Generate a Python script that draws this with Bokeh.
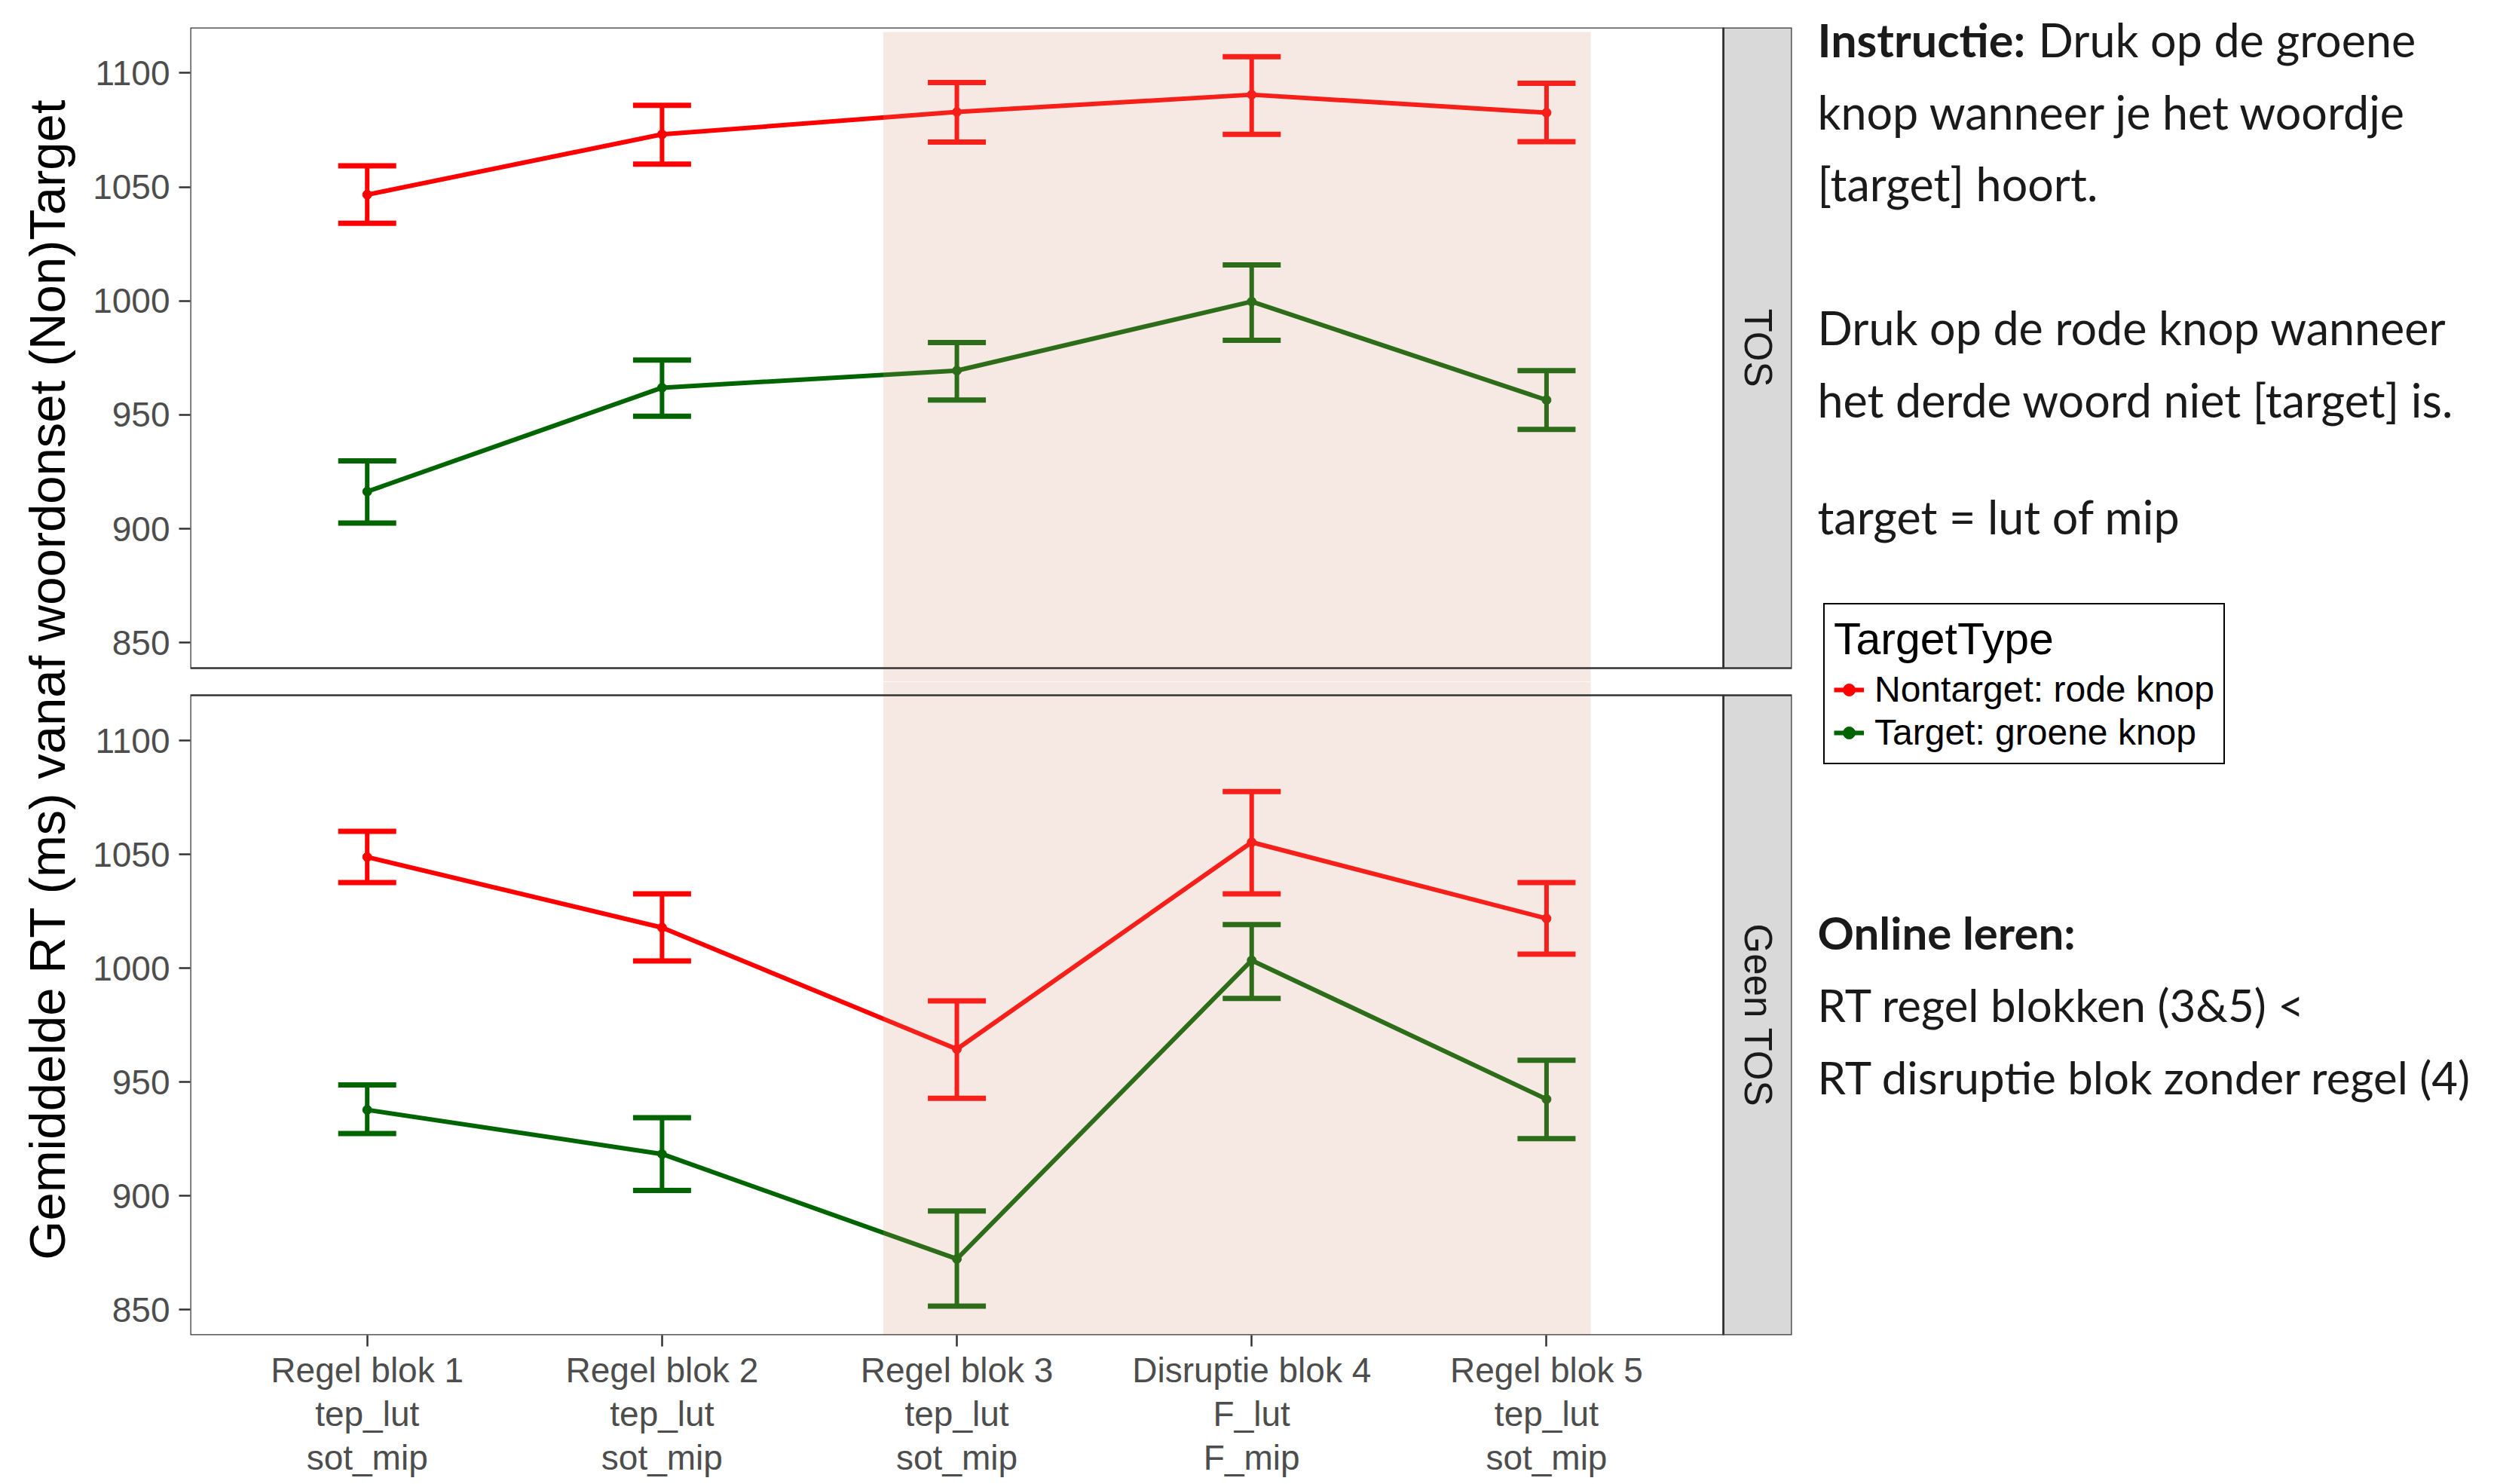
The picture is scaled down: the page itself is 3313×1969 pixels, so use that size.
import math
from bokeh.plotting import figure
from bokeh.models import (Range1d, FixedTicker, BoxAnnotation, Label, Whisker, TeeHead,
                          ColumnDataSource, Legend, LegendItem)
from bokeh.layouts import row, column
from bokeh.embed import file_html
from bokeh.resources import INLINE

# ---------------- data ----------------
blocks = ["Regel blok 1\ntep_lut\nsot_mip", "Regel blok 2\ntep_lut\nsot_mip",
          "Regel blok 3\ntep_lut\nsot_mip", "Disruptie blok 4\nF_lut\nF_mip",
          "Regel blok 5\ntep_lut\nsot_mip"]
y_ticks = [850, 900, 950, 1000, 1050, 1100]
panels = ["TOS", "Geen TOS"]
series_names = ["Nontarget: rode knop", "Target: groene knop"]

# TOS panel
nontarget_tos = [1046.6, 1073.1, 1082.9, 1090.5, 1082.6]
nontarget_tos_lo = [1034.1, 1060.0, 1069.7, 1073.1, 1069.9]
nontarget_tos_hi = [1059.3, 1085.8, 1095.8, 1107.2, 1095.5]
target_tos = [916.3, 961.9, 969.4, 999.7, 956.5]
target_tos_lo = [902.5, 949.4, 956.5, 982.7, 943.6]
target_tos_hi = [929.8, 974.0, 981.7, 1015.8, 969.4]

# Geen TOS panel
nontarget_geen = [1048.9, 1017.9, 964.5, 1055.4, 1021.9]
nontarget_geen_lo = [1037.7, 1003.2, 942.9, 1032.7, 1006.2]
nontarget_geen_hi = [1060.2, 1032.7, 985.7, 1077.7, 1037.7]
target_geen = [937.8, 918.4, 872.3, 1003.5, 942.5]
target_geen_lo = [927.4, 902.4, 851.6, 986.8, 925.2]
target_geen_hi = [948.8, 934.4, 893.4, 1019.2, 959.6]

shade_blocks = (2.75, 5.15)  # highlighted region (block 3 .. block 5)

# ---------------- style / layout ----------------
RED = "#FF0000"
GREEN = "#006400"
COLORS = [RED, GREEN]
TICK_FONT = "Liberation Sans"
TEXT_FONT = "Lato"
BORDER = "#333333"

W_LABEL, W_CENTER, W_RIGHT = 120, 2261, 916
H_TOTAL, H_TOP = 1962, 904
PANEL_H, GAP_HALF, PANEL_W, STRIP_W = 850, 18, 2037, 91
MB_LEFT, MB_TOP, MB_RIGHT = 129, 36, 4

xs = list(range(1, len(blocks) + 1))
xlo, xhi_panel = 0.4, len(blocks) + 0.6
xmax = xhi_panel + STRIP_W * (xhi_panel - xlo) / PANEL_W

all_vals = (nontarget_tos_lo + nontarget_tos_hi + target_tos_lo + target_tos_hi +
            nontarget_geen_lo + nontarget_geen_hi + target_geen_lo + target_geen_hi)
ymin, ymax = min(all_vals), max(all_vals)
span = ymax - ymin
ylo, yhi = ymin - 0.05 * span, ymax + 0.05 * span
upp = (yhi - ylo) / PANEL_H
ext = GAP_HALF * upp

panel_data = [
    [(nontarget_tos, nontarget_tos_lo, nontarget_tos_hi), (target_tos, target_tos_lo, target_tos_hi)],
    [(nontarget_geen, nontarget_geen_lo, nontarget_geen_hi), (target_geen, target_geen_lo, target_geen_hi)],
]


def style_axis(ax):
    ax.axis_line_color = None
    ax.major_tick_in = 0
    ax.major_tick_out = 15
    ax.major_tick_line_color = BORDER
    ax.major_tick_line_width = 2.5
    ax.minor_tick_line_color = None
    ax.major_label_text_font = TICK_FONT
    ax.major_label_text_font_size = "46px"
    ax.major_label_text_color = "#4D4D4D"


def make_panel(idx):
    top = idx == 0
    p = figure(width=W_CENTER, height=H_TOP if top else H_TOTAL - H_TOP,
               x_range=Range1d(xlo, xmax),
               y_range=Range1d(ylo - ext, yhi) if top else Range1d(ylo, yhi + ext),
               x_axis_location=None if top else "below",
               output_backend="svg", toolbar_location=None)
    p.min_border = 0
    p.min_border_left = MB_LEFT
    p.min_border_right = MB_RIGHT
    p.min_border_top = MB_TOP if top else 0
    p.min_border_bottom = 0
    p.outline_line_color = None
    p.grid.visible = False
    p.background_fill_color = "white"
    p.border_fill_color = "white"

    # strip
    p.add_layout(BoxAnnotation(left=xhi_panel, right=xmax, bottom=ylo, top=yhi,
                               fill_color="#D9D9D9", fill_alpha=1, line_color=BORDER,
                               line_alpha=1, line_width=2.5, level="underlay"))
    p.add_layout(Label(x=(xhi_panel + xmax) / 2, y=(ylo + yhi) / 2, text=panels[idx],
                       angle=-math.pi / 2, text_align="center", text_baseline="middle",
                       text_font="Liberation Sans", text_font_size="51px", text_color="#1A1A1A"))

    for (vals, lo, hi), color in zip(panel_data[idx], COLORS):
        src = ColumnDataSource(dict(x=xs, y=vals, lower=lo, upper=hi))
        p.add_layout(Whisker(source=src, base="x", upper="upper", lower="lower",
                             line_color=color, line_width=6, level="glyph",
                             upper_head=TeeHead(size=77, line_color=color, line_width=7),
                             lower_head=TeeHead(size=77, line_color=color, line_width=7)))
        p.line("x", "y", source=src, line_color=color, line_width=6)
        p.scatter("x", "y", source=src, size=12, color=color)

    # semi-transparent highlight
    p.add_layout(BoxAnnotation(left=shade_blocks[0], right=shade_blocks[1],
                               top=(yhi - 6 * upp) if top else None,
                               fill_color="#D49376", fill_alpha=0.21, line_alpha=0,
                               level="overlay"))
    # panel border
    p.add_layout(BoxAnnotation(left=xlo, right=xhi_panel, bottom=ylo, top=yhi,
                               fill_alpha=0, line_color=BORDER, line_alpha=1, line_width=2.5,
                               level="overlay"))

    ya = p.yaxis[0]
    ya.ticker = FixedTicker(ticks=y_ticks)
    style_axis(ya)
    ya.major_label_standoff = 12

    if not top:
        xa = p.xaxis[0]
        xa.ticker = FixedTicker(ticks=xs)
        xa.major_label_overrides = {x: lbl for x, lbl in zip(xs, blocks)}
        style_axis(xa)
        xa.major_label_text_line_height = 1.12
        xa.major_label_standoff = 5
    return p


p_top = make_panel(0)
p_bot = make_panel(1)

# left: shared y-axis title
lp = figure(width=W_LABEL, height=H_TOTAL, x_range=Range1d(0, W_LABEL), y_range=Range1d(0, H_TOTAL),
            x_axis_location=None, y_axis_location=None, output_backend="svg", toolbar_location=None)
lp.min_border = 0
lp.outline_line_color = None
lp.grid.visible = False
lp.add_layout(Label(x=62, y=H_TOTAL - 901, text="Gemiddelde RT (ms) vanaf woordonset (Non)Target",
                    angle=math.pi / 2, text_align="center", text_baseline="middle",
                    text_font="Liberation Sans", text_font_size="67px", text_color="black"))

# right: instructions and legend
rp = figure(width=W_RIGHT, height=H_TOTAL, x_range=Range1d(0, W_RIGHT), y_range=Range1d(H_TOTAL, 0),
            x_axis_location=None, y_axis_location=None, output_backend="svg", toolbar_location=None)
rp.min_border = 0
rp.outline_line_color = None
rp.grid.visible = False

TX = 30
upper_lines = [("Instructie:", "Druk op de groene", 51.6),
               (None, "knop wanneer je het woordje", 147.7),
               (None, "[target] hoort.", 243),
               (None, "Druk op de rode knop wanneer", 434),
               (None, "het derde woord niet [target] is.", 530),
               (None, "target = lut of mip", 685)]
for bold, reg, yy in upper_lines:
    x0 = TX
    if bold:
        rp.add_layout(Label(x=TX, y=yy, text=bold, text_font=TEXT_FONT, text_font_style="bold",
                            text_font_size="61px", text_color="#1A1A1A", text_baseline="middle"))
        x0 = TX + 293
    rp.add_layout(Label(x=x0, y=yy, text=reg, text_font=TEXT_FONT, text_font_size="61px",
                        text_color="#1A1A1A", text_baseline="middle"))

lower_lines = [("Online leren:", "bold", 1236.8),
               ("RT regel blokken (3&5) <", "normal", 1332),
               ("RT disruptie blok zonder regel (4)", "normal", 1428)]
for txt, style, yy in lower_lines:
    rp.add_layout(Label(x=TX, y=yy, text=txt, text_font=TEXT_FONT, text_font_style=style,
                        text_font_size="60px", text_color="#1A1A1A", text_baseline="middle"))

# legend: renderers drawn from the series data on an off-frame range (not visible)
rp.extra_y_ranges = {"hidden": Range1d(start=-2, end=-1)}
items = []
for name, color, vals in zip(series_names, COLORS, [nontarget_tos, target_tos]):
    rl = rp.line(x=xs, y=vals, line_color=color, line_width=6, y_range_name="hidden")
    rs = rp.scatter(x=xs, y=vals, size=12, color=color, y_range_name="hidden")
    items.append(LegendItem(label=name, renderers=[rl, rs]))
legend = Legend(items=items, title="TargetType", location=(38, H_TOTAL - 1014),
                title_text_font=TICK_FONT, title_text_font_size="59px", title_text_font_style="normal",
                title_text_color="black", title_standoff=4,
                label_text_font=TICK_FONT, label_text_font_size="48px", label_text_color="black",
                label_height=57, glyph_height=40, glyph_width=40, label_standoff=14,
                padding=12, spacing=0, margin=0,
                border_line_color="black", border_line_width=2, border_line_alpha=1,
                background_fill_alpha=1)
rp.add_layout(legend)

layout = row(lp, column(p_top, p_bot), rp)
open("out.html", "w").write(file_html(layout, INLINE))
